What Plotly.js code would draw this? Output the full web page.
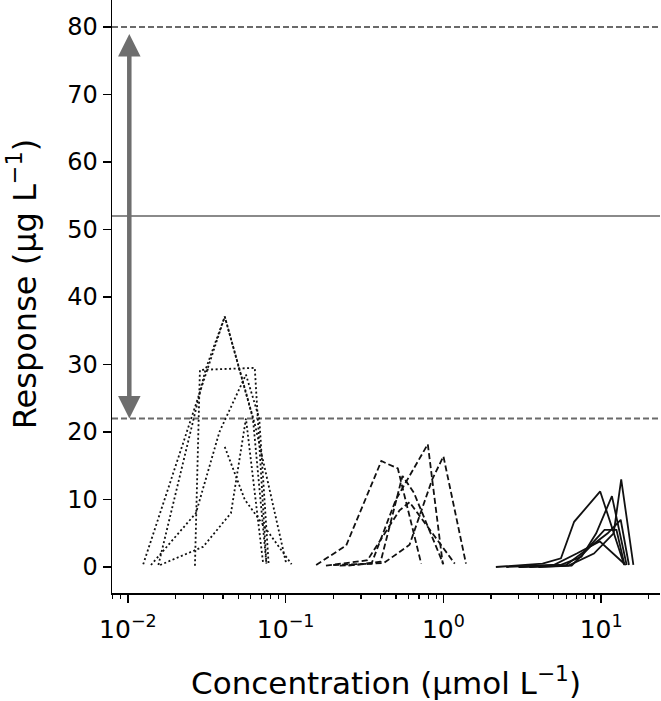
<!DOCTYPE html>
<html>
<head>
<meta charset="utf-8">
<script src="https://cdn.plot.ly/plotly-3.0.1.min.js"></script>
<style>
  body { margin: 0; background: #fff; }
  #plot { width: 661px; height: 701px; }
</style>
</head>
<body>
<div id="plot"></div>
<script>
// dotted group (lowest concentrations)
let dotX1 = [0.0125, 0.0411, 0.0620, 0.0755];
let dotY1 = [0.4, 37.1, 22, 0.5];
let dotX2 = [0.0266, 0.0286, 0.0637, 0.0755];
let dotY2 = [0.2, 29.2, 29.5, 0.5];
let dotX3 = [0.0156, 0.0310, 0.0411, 0.0640, 0.1010];
let dotY3 = [0.3, 29.2, 37.1, 21, 0.4];
let dotX4 = [0.0140, 0.0270, 0.0380, 0.0560, 0.0680, 0.0780];
let dotY4 = [0.3, 8, 20, 28.5, 22, 0.4];
let dotX5 = [0.0160, 0.0300, 0.0450, 0.0560, 0.0720];
let dotY5 = [0.3, 3, 8, 22, 0.5];
let dotX6 = [0.0411, 0.0550, 0.1090];
let dotY6 = [17.8, 10, 0.4];

// dashed group
let dashX1 = [0.156, 0.242, 0.404, 0.514, 0.723];
let dashY1 = [0.3, 3.2, 15.7, 14.6, 0.5];
let dashX2 = [0.20, 0.35, 0.50, 0.796, 0.99];
let dashY2 = [0.3, 0.5, 10, 18.2, 0.5];
let dashX3 = [0.22, 0.42, 0.61, 0.85, 1.0, 1.39];
let dashY3 = [0.2, 0.6, 3.3, 13, 16.4, 0.5];
let dashX4 = [0.18, 0.33, 0.527, 0.61, 1.18];
let dashY4 = [0.2, 1.0, 8.4, 9.6, 0.5];
let dashX5 = [0.25, 0.40, 0.55, 0.65, 1.0];
let dashY5 = [0.2, 0.8, 13.5, 11, 0.4];

// solid group (highest concentrations)
let solX1 = [2.15, 4.25, 5.56, 6.74, 9.86, 14.0];
let solY1 = [0, 0.5, 1.3, 6.7, 11.2, 0.3];
let solX2 = [3.0, 5.5, 7.5, 9.3, 11.7, 14.5];
let solY2 = [0, 0.3, 1.5, 5, 10.5, 0.3];
let solX3 = [3.5, 6.2, 9.0, 12.0, 13.4, 16.0];
let solY3 = [0, 0.2, 2, 5, 13.0, 0.3];
let solX4 = [2.5, 5.0, 7.0, 9.8, 14.3];
let solY4 = [0, 0.3, 2, 3.8, 0.3];
let solX5 = [4.0, 6.5, 8.5, 11.0, 13.3, 15.0];
let solY5 = [0, 0.2, 3, 5, 7, 0.3];
let solX6 = [3.0, 6.0, 8.0, 10.5, 12.5, 14.0];
let solY6 = [0, 0.3, 2.5, 5.5, 5.5, 0.5];

// reference levels
let upperLevel = 80;
let middleLevel = 52;
let lowerLevel = 22;

let xTickVals = [0.01, 0.1, 1, 10];
let xTickText = ['10<sup>−2</sup>', '10<sup>−1</sup>', '10<sup>0</sup>', '10<sup>1</sup>'];
let xMinorVals = [0.008, 0.009, 0.02, 0.03, 0.04, 0.05, 0.06, 0.07, 0.08, 0.09,
                  0.2, 0.3, 0.4, 0.5, 0.6, 0.7, 0.8, 0.9, 2, 3, 4, 5, 6, 7, 8, 9, 20];

function series(x, y, dash) {
    return {
        x: x, y: y, mode: 'lines', showlegend: false, hoverinfo: 'skip',
        line: {color: '#111', width: 1.8, dash: dash}
    };
}

let data = [
    series(dotX1, dotY1, '2px,2.5px'), series(dotX2, dotY2, '2px,2.5px'),
    series(dotX3, dotY3, '2px,2.5px'), series(dotX4, dotY4, '2px,2.5px'),
    series(dotX5, dotY5, '2px,2.5px'), series(dotX6, dotY6, '2px,2.5px'),
    series(dashX1, dashY1, '6px,3px'), series(dashX2, dashY2, '6px,3px'),
    series(dashX3, dashY3, '6px,3px'), series(dashX4, dashY4, '6px,3px'),
    series(dashX5, dashY5, '6px,3px'),
    series(solX1, solY1, 'solid'), series(solX2, solY2, 'solid'),
    series(solX3, solY3, 'solid'), series(solX4, solY4, 'solid'),
    series(solX5, solY5, 'solid'), series(solX6, solY6, 'solid')
];

function hline(y, dash, color) {
    return {type: 'line', xref: 'paper', x0: 0, x1: 1, yref: 'y', y0: y, y1: y,
            line: {color: color, width: 1.8, dash: dash}, layer: 'below'};
}

let layout = {
    width: 661, height: 701,
    margin: {l: 112, r: 1, t: 0, b: 108},
    paper_bgcolor: '#fff', plot_bgcolor: '#fff',
    font: {family: 'DejaVu Sans', color: '#000'},
    xaxis: {
        type: 'log', range: [-2.101, 1.373],
        tickvals: xTickVals, ticktext: xTickText,
        ticks: 'outside', ticklen: 8, tickwidth: 1.5, tickcolor: '#000',
        minor: {tickvals: xMinorVals, ticks: 'outside', ticklen: 4.5, tickwidth: 1.2, tickcolor: '#000'},
        showline: true, linecolor: '#000', linewidth: 1.5,
        showgrid: false, zeroline: false,
        tickfont: {size: 25}, ticklabelstandoff: 5,
        title: {text: 'Concentration (µmol L<sup>−1</sup>)', font: {size: 31}, standoff: 30}
    },
    yaxis: {
        range: [-3.85, 84],
        tickvals: [0, 10, 20, 30, 40, 50, 60, 70, 80],
        ticks: 'outside', ticklen: 8, tickwidth: 1.5, tickcolor: '#000',
        showline: true, linecolor: '#000', linewidth: 1.5,
        showgrid: false, zeroline: false,
        tickfont: {size: 24}
    },
    shapes: [
        hline(upperLevel, '6px,3px', '#6a6a6a'),
        hline(middleLevel, 'solid', '#8a8a8a'),
        hline(lowerLevel, '6px,3px', '#6a6a6a')
    ],
    annotations: [{
        xref: 'x', yref: 'y', axref: 'x', ayref: 'y',
        x: Math.log10(0.0102), y: lowerLevel,
        ax: Math.log10(0.0102), ay: 79.2,
        text: '', showarrow: true, arrowside: 'end+start',
        arrowhead: 2, arrowsize: 1, arrowwidth: 4.5, arrowcolor: '#6e6e6e',
        standoff: 0, startstandoff: 0
    }, {
        // y axis title
        xref: 'paper', yref: 'paper', x: -0.164, y: 0.521,
        xanchor: 'center', yanchor: 'middle', textangle: -90,
        text: 'Response (µg L<sup>−1</sup>)', showarrow: false,
        font: {size: 32}
    }]
};

Plotly.newPlot('plot', data, layout, {staticPlot: true});
</script>
</body>
</html>
